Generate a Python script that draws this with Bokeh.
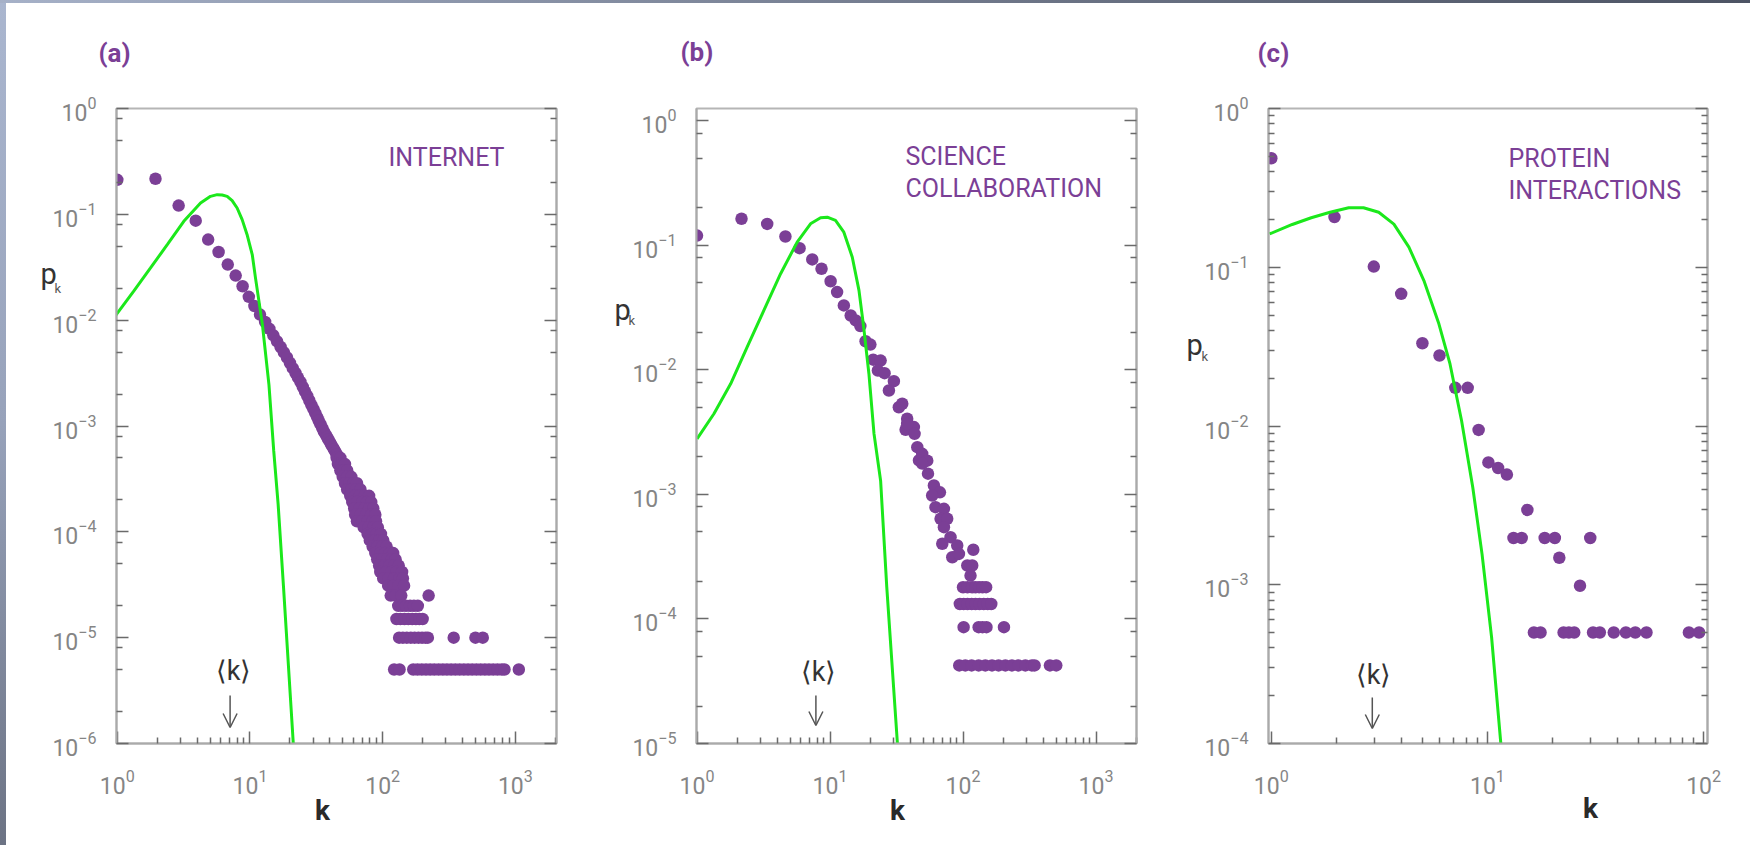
import math
from bokeh.plotting import figure
from bokeh.models import Range1d, FixedTicker, LogAxis, Label, Arrow, OpenHead, Div
from bokeh.layouts import row, column
from bokeh.embed import file_html
from bokeh.resources import INLINE

PURPLE = "#7b3f96"
GREEN = "#1be81b"
FONT = "Roboto"

# ---------------- data: (a) INTERNET ----------------
internet_k = [1.0, 1.94, 2.9, 3.9, 4.84, 5.8, 6.8, 7.8, 8.8, 9.8, 10.8, 11.9,
              13, 14, 15, 16, 17, 18, 19, 20, 21, 22, 23, 24, 25, 26, 27, 28, 29,
              30, 31, 32, 33, 34, 35, 36, 37, 38, 39, 40, 41, 42, 43, 44, 45]
internet_p = [0.212, 0.217, 0.121, 0.0872, 0.0577, 0.0441, 0.0335, 0.0264, 0.0209,
              0.0166, 0.0136, 0.0113, 0.00962, 0.00828, 0.00719, 0.00631, 0.00558,
              0.00497, 0.00444, 0.00394, 0.00352, 0.00318, 0.00286, 0.00261, 0.00234,
              0.00211, 0.00192, 0.00174, 0.00158, 0.00145, 0.00133, 0.00122, 0.00112,
              0.00104, 0.000959, 0.000891, 0.000838, 0.000788, 0.000745, 0.000705,
              0.000665, 0.000632, 0.000601, 0.000571, 0.000542]
internet_tail_p = [5.0e-4, 4.37e-4, 3.8e-4, 3.31e-4, 2.88e-4, 2.51e-4, 2.19e-4, 1.91e-4,
                   1.66e-4, 1.45e-4, 1.26e-4, 1.10e-4, 9.55e-5, 8.3e-5, 7.25e-5, 6.3e-5,
                   5.5e-5, 4.8e-5, 4.17e-5, 3.63e-5, 3.1e-5, 2.5e-5, 2.0e-5, 1.5e-5,
                   1.0e-5, 5.0e-6]
internet_tail_k = [
    [45, 48], [46, 49, 52], [48, 51, 54], [50, 54, 58], [52, 56, 60, 64],
    [54, 58, 63, 68], [57, 62, 67, 73, 79], [59, 64, 70, 76, 82], [61, 67, 73, 79, 85],
    [62, 68, 75, 82, 88], [64, 70, 77, 84, 89], [72, 78, 85, 92], [77, 83, 90, 97],
    [80, 87, 94, 101], [84, 91, 99, 107], [88, 96, 104, 113, 120], [91, 99, 108, 117, 125],
    [94, 103, 112, 122, 132], [96, 106, 116, 127, 140], [101, 111, 122, 134, 142],
    [110, 120, 131, 145], [115, 125, 138, 222], [131, 140, 150, 161, 172, 184],
    [127, 136, 146, 156, 167, 178, 189, 200],
    [133, 142, 152, 163, 174, 186, 198, 210, 219, 343, 500, 568],
    [122, 134, 170, 183, 197, 212, 228, 245, 264, 284, 305, 328, 353, 380, 409, 440,
     473, 509, 547, 589, 633, 681, 733, 788, 828, 1062],
]
internet_poisson_k = [0.97, 1.33, 1.78, 2.38, 3.17, 4.24, 5.04, 5.66, 6.17, 6.73, 7.34,
                      8.0, 8.73, 9.5, 10.4, 11.0, 12.4, 13.9, 15.1, 16.3, 17.9, 21.2]
internet_poisson_p = [0.01107, 0.01879, 0.03112, 0.05176, 0.0859, 0.1279, 0.1479, 0.1535,
                      0.1521, 0.1479, 0.1346, 0.1148, 0.0891, 0.0646, 0.0417, 0.0251,
                      0.00912, 0.00245, 5.81e-4, 1.82e-4, 2.99e-5, 1.0e-6]

# ---------------- data: (b) SCIENCE COLLABORATION ----------------
science_k = [1.0, 2.16, 3.37, 4.62, 5.90, 7.35, 8.63, 10.1, 11.3, 12.7, 14.3, 15.6, 16.9,
             18.5, 20.1, 21.1, 24.0, 22.9, 25.7, 30.2, 27.7, 32.9, 34.9, 38.0, 42.7, 37.0,
             45.3, 46.6, 38.0, 43.2, 49.3, 53.8, 49.3, 54.5, 60.4, 67.0, 58.6, 62.1, 71.8,
             67.8, 76.0, 71.8, 80.5, 69.8, 90.4, 119.4, 83.0, 93.1, 107.6, 117.2, 113.8]
science_p = [0.120, 0.164, 0.149, 0.118, 0.0951, 0.0773, 0.0650, 0.0516, 0.0422, 0.0330,
             0.0274, 0.0250, 0.0225, 0.0170, 0.0160, 0.0121, 0.0119, 0.00991, 0.00942,
             0.00813, 0.00684, 0.00502, 0.00535, 0.00406, 0.00348, 0.00331, 0.00240,
             0.00188, 0.00369, 0.00307, 0.00212, 0.00187, 0.00177, 0.00147, 0.00118,
             0.00104, 0.000982, 0.000791, 0.000767, 0.000638, 0.000638, 0.000546,
             0.000454, 0.000402, 0.000389, 0.000360, 0.000313, 0.000333, 0.000269,
             0.000269, 0.000223]
science_tail_p = [1.80e-4, 1.32e-4, 8.6e-5, 4.24e-5]
science_tail_k = [
    [100, 108, 117, 124, 132, 140, 149],
    [94.6, 101, 108, 116, 124, 133, 143, 153, 163],
    [101, 131, 140, 150, 203],
    [93.6, 104, 116, 131, 147, 165, 185, 208, 233, 261, 294, 329, 345, 450, 502],
]
science_poisson_k = [1.0, 1.34, 1.79, 2.38, 3.18, 4.25, 5.66, 7.13, 8.49, 9.53, 10.99,
                     12.7, 14.7, 16.5, 17.9, 19.6, 21.4, 24.0, 26.7, 32.1]
science_poisson_p = [0.0028, 0.00445, 0.00774, 0.01524, 0.03006, 0.0593, 0.1064, 0.1493,
                     0.1667, 0.1687, 0.1589, 0.1279, 0.0805, 0.0436, 0.0221, 0.00933,
                     0.00308, 0.00129, 0.00018, 0.00001]

# ---------------- data: (c) PROTEIN INTERACTIONS ----------------
protein_k = [1.0, 1.96, 2.98, 3.99, 5.0, 6.0, 7.1, 8.1, 9.1, 10.1, 11.2, 12.3, 15.3, 13.2,
             14.4, 18.4, 20.5, 29.9, 21.5, 26.8,
             16.4, 17.6, 22.5, 23.8, 25.2, 30.8, 33.1, 38.4, 43.7, 48.3, 54.4, 85.5, 95.3]
protein_p = [0.486, 0.207, 0.101, 0.068, 0.0332, 0.0278, 0.0174, 0.0174, 0.00945, 0.0059,
             0.00544, 0.00494, 0.00296, 0.00197, 0.00197, 0.00197, 0.00197, 0.00197,
             0.00148, 0.000986,
             5e-4, 5e-4, 5e-4, 5e-4, 5e-4, 5e-4, 5e-4, 5e-4, 5e-4, 5e-4, 5e-4, 5e-4, 5e-4]
protein_poisson_k = [0.982, 1.25, 1.53, 1.87, 2.28, 2.67, 3.14, 3.69, 4.33, 5.08, 5.96,
                     6.71, 7.59, 8.55, 9.44, 10.45, 11.53]
protein_poisson_p = [0.162, 0.186, 0.205, 0.222, 0.237, 0.237, 0.222, 0.187, 0.134, 0.0824,
                     0.0440, 0.0246, 0.0108, 0.00411, 0.00156, 0.000467, 0.0001]

# ---------------- labels ----------------
panel_tags = ["(a)", "(b)", "(c)"]
panel_names = [["INTERNET"], ["SCIENCE", "COLLABORATION"], ["PROTEIN", "INTERACTIONS"]]
mean_k_label = "\u27e8k\u27e9"


def flatten(rows_k, levels):
    ks, ps = [], []
    for krow, pv in zip(rows_k, levels):
        for kv in krow:
            ks.append(kv)
            ps.append(pv)
    return ks, ps


def make_panel(width, mb_left, mb_right, mb_top, mb_bottom, xr, yr, y_minor_mult, page):
    p = figure(width=width, height=842, x_axis_type="log", y_axis_type="log",
               x_range=Range1d(*xr), y_range=Range1d(*yr),
               output_backend="svg", toolbar_location=None,
               min_border_left=mb_left, min_border_right=mb_right,
               min_border_top=mb_top, min_border_bottom=mb_bottom)
    p.grid.visible = False
    p.background_fill_color = "white"
    p.border_fill_color = "white"
    p.outline_line_color = "#b5b5b5"
    p.outline_line_width = 2

    lx0, lx1 = math.log10(xr[0]), math.log10(xr[1])
    ly0, ly1 = math.log10(yr[0]), math.log10(yr[1])
    xmaj = [10.0 ** e for e in range(math.floor(lx0) + 1, math.ceil(lx1))]
    xmin = [m * 10.0 ** e for e in range(math.floor(lx0), math.ceil(lx1) + 1) for m in range(2, 10)]
    ymaj = [10.0 ** e for e in range(round(ly0), math.floor(ly1) + 1)]
    ymin = [m * 10.0 ** e for e in range(math.floor(ly0) - 1, math.ceil(ly1) + 1) for m in y_minor_mult]

    def style(ax):
        ax.axis_line_color = "#aaaaaa"
        ax.axis_line_width = 2
        ax.major_tick_line_color = "#6a6a6a"
        ax.minor_tick_line_color = "#6a6a6a"
        ax.major_tick_line_width = 1.5
        ax.minor_tick_line_width = 1.5
        ax.major_tick_in = 12
        ax.major_tick_out = 0
        ax.minor_tick_in = 6
        ax.minor_tick_out = 0
        ax.major_label_text_font = FONT
        ax.major_label_text_color = "#858585"
        ax.major_label_text_font_size = "23px"

    xax = p.xaxis[0]
    xax.ticker = FixedTicker(ticks=xmaj, minor_ticks=xmin)
    style(xax)
    xax.major_label_standoff = 25
    yax = p.yaxis[0]
    yax.ticker = FixedTicker(ticks=ymaj, minor_ticks=ymin)
    style(yax)
    yax.major_label_standoff = 20
    rax = LogAxis(ticker=FixedTicker(ticks=ymaj, minor_ticks=ymin))
    style(rax)
    rax.major_label_text_font_size = "4px"
    rax.major_label_text_alpha = 0.0
    rax.major_label_standoff = 0
    p.add_layout(rax, "right")

    # page-pixel -> data helper for annotations
    L, T = page[0] + mb_left, page[1] + mb_top
    R, B = page[0] + width - mb_right, page[1] + 842 - mb_bottom

    def to_data(px, py):
        lx = lx0 + (px - L) / (R - L) * (lx1 - lx0)
        ly = ly0 + (B - py) / (B - T) * (ly1 - ly0)
        return 10 ** lx, 10 ** ly

    return p, to_data


def add_text(p, to_data, px, py, text, size, color, align="left", style="normal",
             side="center", font=FONT):
    # py is the vertical centre of the text
    x, y = to_data(px, py)
    lab = Label(x=x, y=y, text=text, text_font=font, text_font_size=f"{size}px",
                text_color=color, text_align=align, text_baseline="middle",
                text_font_style=style)
    p.add_layout(lab, side)


def decorate(p, to_data, idx, tag_x, name_x, name_y, pk_x, pk_y, kk_x, kk_y, mk_x, mk_y,
             arrow_x, arrow_y0, arrow_y1, k_x, k_y):
    add_text(p, to_data, tag_x, 51, panel_tags[idx], 26, PURPLE, style="bold", side="above")
    for i, line in enumerate(panel_names[idx]):
        add_text(p, to_data, name_x, name_y + 32 * i, line, 25, PURPLE)
    add_text(p, to_data, pk_x, pk_y, "p", 29, "#333333", side="left")
    add_text(p, to_data, kk_x, kk_y, "k", 13, "#555555", side="left")
    add_text(p, to_data, mk_x, mk_y, mean_k_label, 27, "#333333", align="center")
    ax, ay0 = to_data(arrow_x, arrow_y0)
    _, ay1 = to_data(arrow_x, arrow_y1)
    p.add_layout(Arrow(end=OpenHead(size=14, line_color="#555555", line_width=1.5),
                       x_start=ax, y_start=ay0, x_end=ax, y_end=ay1,
                       line_color="#555555", line_width=1.5))
    add_text(p, to_data, k_x, k_y, "k", 28, "#2a2a2a", align="center", style="bold",
             side="below")


# ---------------- panel (a) ----------------
pa, ta = make_panel(574, 110, 24, 104, 102, (10 ** -0.006, 10 ** 3.310), (1e-6, 1.0),
                    [2, 5, 8], (6, 3))
tk, tp = flatten(internet_tail_k, internet_tail_p)
pa.scatter(internet_k + tk, internet_p + tp, size=12.5, fill_color=PURPLE, line_color=None)
pa.line(internet_poisson_k, internet_poisson_p, line_color=GREEN, line_width=3)
decorate(pa, ta, 0, 98, 388, 156, 40, 273, 54, 287, 233, 670, 229.6, 695, 727, 322, 810)

# ---------------- panel (b) ----------------
pb, tb = make_panel(580, 116, 24, 105, 102, (10 ** -0.004, 10 ** 3.304), (1e-5, 10 ** 0.1),
                    [2, 5, 8], (580, 3))
sk, sp = flatten(science_tail_k, science_tail_p)
pb.scatter(science_k + sk, science_p + sp, size=12.5, fill_color=PURPLE, line_color=None)
pb.line(science_poisson_k, science_poisson_p, line_color=GREEN, line_width=3)
decorate(pb, tb, 1, 680, 905, 156, 614, 309, 628, 320, 818, 671, 815.4, 695, 725, 897, 810)

# ---------------- panel (c) ----------------
pc, tc = make_panel(590, 108, 43, 104, 102, (10 ** -0.013, 10 ** 2.018), (1e-4, 1.0),
                    list(range(2, 10)), (1160, 3))
pc.scatter(protein_k, protein_p, size=12.5, fill_color=PURPLE, line_color=None)
pc.line(protein_poisson_k, protein_poisson_p, line_color=GREEN, line_width=3)
decorate(pc, tc, 2, 1257, 1508, 157, 1186, 344, 1201, 355, 1373, 674, 1371.8, 697, 728,
         1590, 808)

top_strip = Div(text="", width=1750, height=3, margin=0,
                styles={"background": "linear-gradient(to right, #a6b1c8, #6b7385 60%, #4d5464)"})
left_strip = Div(text="", width=6, height=842, margin=0,
                 styles={"background": "linear-gradient(to bottom, #aab6cf, #97a2ba 50%, #6c7384)"})

layout = column(top_strip, row(left_strip, pa, pb, pc, spacing=0), spacing=0)

open("out.html", "w").write(file_html(layout, INLINE))
